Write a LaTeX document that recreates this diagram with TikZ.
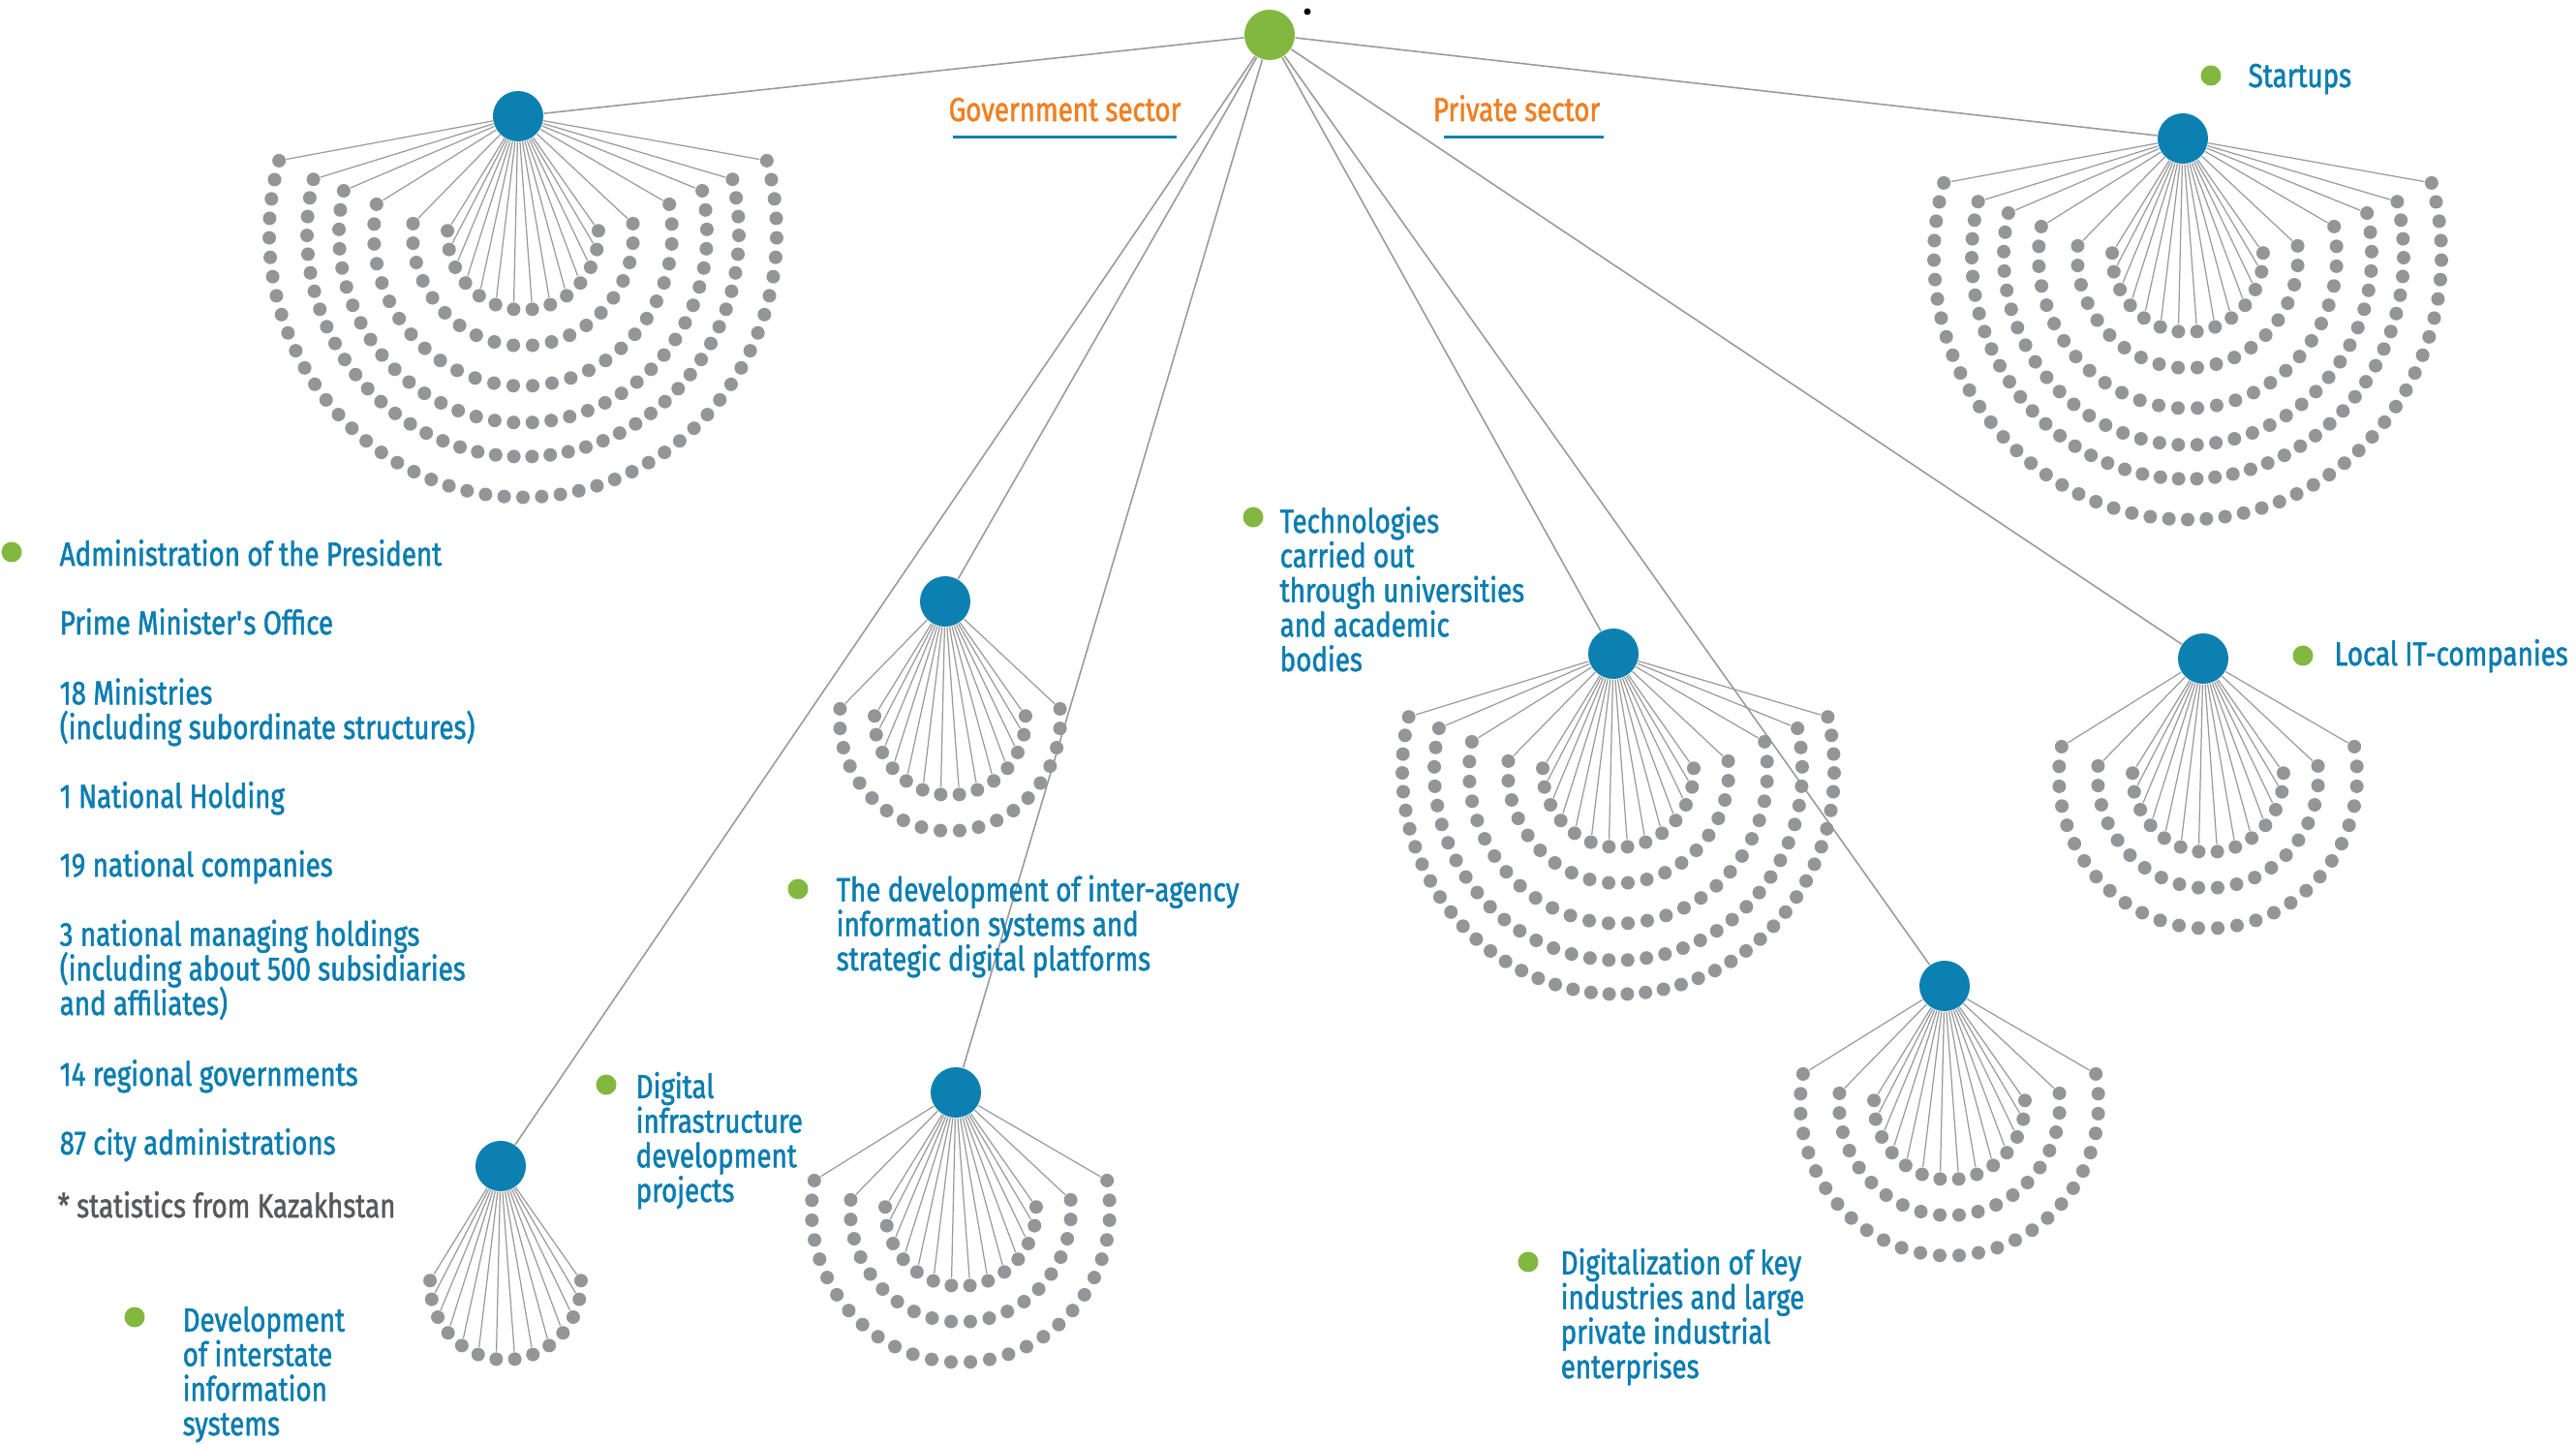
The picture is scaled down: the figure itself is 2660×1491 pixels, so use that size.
\documentclass[tikz,border=0pt]{standalone}
\usepackage{fontspec}
\setmainfont{Fira Sans}[FakeStretch=0.805, FakeBold=1.5]
\usetikzlibrary{backgrounds}
\definecolor{hubblue}{HTML}{0D80B2}
\definecolor{txtblue}{HTML}{0B7DB0}
\definecolor{dotgray}{HTML}{939598}
\definecolor{leafgreen}{HTML}{82B83F}
\definecolor{secorange}{HTML}{F07F22}
\definecolor{notegray}{HTML}{58595B}
\definecolor{linegray}{HTML}{9A9A9A}

\begin{document}
\begin{tikzpicture}[x=0.01cm, y=-0.01cm,
    hub/.style={circle, fill=hubblue, minimum size=5.2mm, inner sep=0pt},
    leaf/.style={circle, fill=dotgray, minimum size=1.4mm, inner sep=0pt},
    bullet/.style={circle, fill=leafgreen, minimum size=2.1mm, inner sep=0pt},
    link/.style={draw=linegray, line width=0.45pt},
    spoke/.style={draw=linegray, line width=0.35pt},
    uline/.style={draw=hubblue, line width=0.85pt},
    lbl/.style={anchor=base west, inner sep=0pt, align=left, text=txtblue,
      font={\fontsize{9.8pt}{10.16pt}\selectfont\lineskiplimit=-20pt}},
    sector/.style={anchor=base, inner sep=0pt, text=secorange,
      font={\fontsize{9.8pt}{10.16pt}\selectfont}}]
  \useasboundingbox (0,0) rectangle (2660,1491);

  \node[hub, fill=leafgreen] (root) at (1311,36) {};
  \node[circle, fill=black, minimum size=0.7mm, inner sep=0pt] (star) at (1350,12) {};

  \foreach \g/\hx/\hy/\m in {pa/535/120/6, su/2254/143/6, ia/976/621/2, tu/1666/675/5,
      it/2275/680/3, dk/2008/1018/3, di/987/1128/3, ds/517/1204/1} {
    \node[hub] (\g) at (\hx,\hy) {};
    \foreach \k/\rad/\elev/\cnt in {1/78/2/14, 2/114/5/20, 3/154/11/28, 4/190/13/36,
        5/223/14/44, 6/262/16/51} {
      \ifnum\k>\m\relax\else
      \foreach \i in {1,...,\cnt} {
        \pgfmathsetmacro\ang{180-\elev+(180+2*\elev)*(\i-1)/(\cnt-1)}
        \node[leaf] (\g-\k-\i) at ({\hx+5+\rad*cos(\ang)},
          {\hy+121-\rad*(1+0.00015*\rad)*sin(\ang)}) {};
      }
      \fi
    }
  }

  \begin{pgfonlayer}{background}
    \foreach \g/\m in {pa/6, su/6, ia/2, tu/5, it/3, dk/3, di/3, ds/1} {
      \draw[link] (root) -- (\g);
      \foreach \i in {1,...,14} \draw[spoke] (\g) -- (\g-1-\i);
      \foreach \k/\cnt in {2/20, 3/28, 4/36, 5/44, 6/51} {
        \ifnum\k>\m\relax\else
          \draw[spoke] (\g) -- (\g-\k-1) (\g) -- (\g-\k-\cnt);
        \fi
      }
    }
  \end{pgfonlayer}

  \node[sector] (gov) at (1099.5,125) {Government sector};
  \node[sector] (prv) at (1566,125) {Private sector};
  \draw[uline] (984,141.7) -- (1215,141.7);
  \draw[uline] (1491,141.7) -- (1656,141.7);

  \node[bullet] (b1) at (12,570) {};
  \node[lbl] (adm) at (61,584) {Administration of the President};
  \node[lbl] (pmo) at (61,655) {Prime Minister\textquotesingle s Office};
  \node[lbl] (min) at (61,763) {18 Ministries\\(including subordinate structures)};
  \node[lbl] (nh) at (61,834) {1 National Holding};
  \node[lbl] (nc) at (61,905) {19 national companies};
  \node[lbl] (mh) at (61,1048) {3 national managing holdings\\(including about 500 subsidiaries\\and affiliates)};
  \node[lbl] (rg) at (61,1121) {14 regional governments};
  \node[lbl] (ca) at (61,1192) {87 city administrations};
  \node[lbl, text=notegray] (stat) at (59,1257) {* statistics from Kazakhstan};

  \node[bullet] (b2) at (2283,78) {};
  \node[lbl] (sup) at (2321,90) {Startups};
  \node[bullet] (b3) at (1294,534) {};
  \node[lbl] (tec) at (1321,693) {Technologies\\carried out\\through universities\\and academic\\bodies};
  \node[bullet] (b4) at (2378,677) {};
  \node[lbl] (loc) at (2410,687) {Local IT-companies};
  \node[bullet] (b5) at (824,918) {};
  \node[lbl] (iag) at (863,1002) {The development of inter-agency\\information systems and\\strategic digital platforms};
  \node[bullet] (b6) at (626,1120) {};
  \node[lbl] (dig) at (656,1241) {Digital\\infrastructure\\development\\projects};
  \node[bullet] (b7) at (1578,1303) {};
  \node[lbl] (key) at (1611,1423) {Digitalization of key\\industries and large\\private industrial\\enterprises};
  \node[bullet] (b8) at (139,1360) {};
  \node[lbl] (ist) at (188,1482) {Development\\of interstate\\information\\systems};
\end{tikzpicture}
\end{document}
